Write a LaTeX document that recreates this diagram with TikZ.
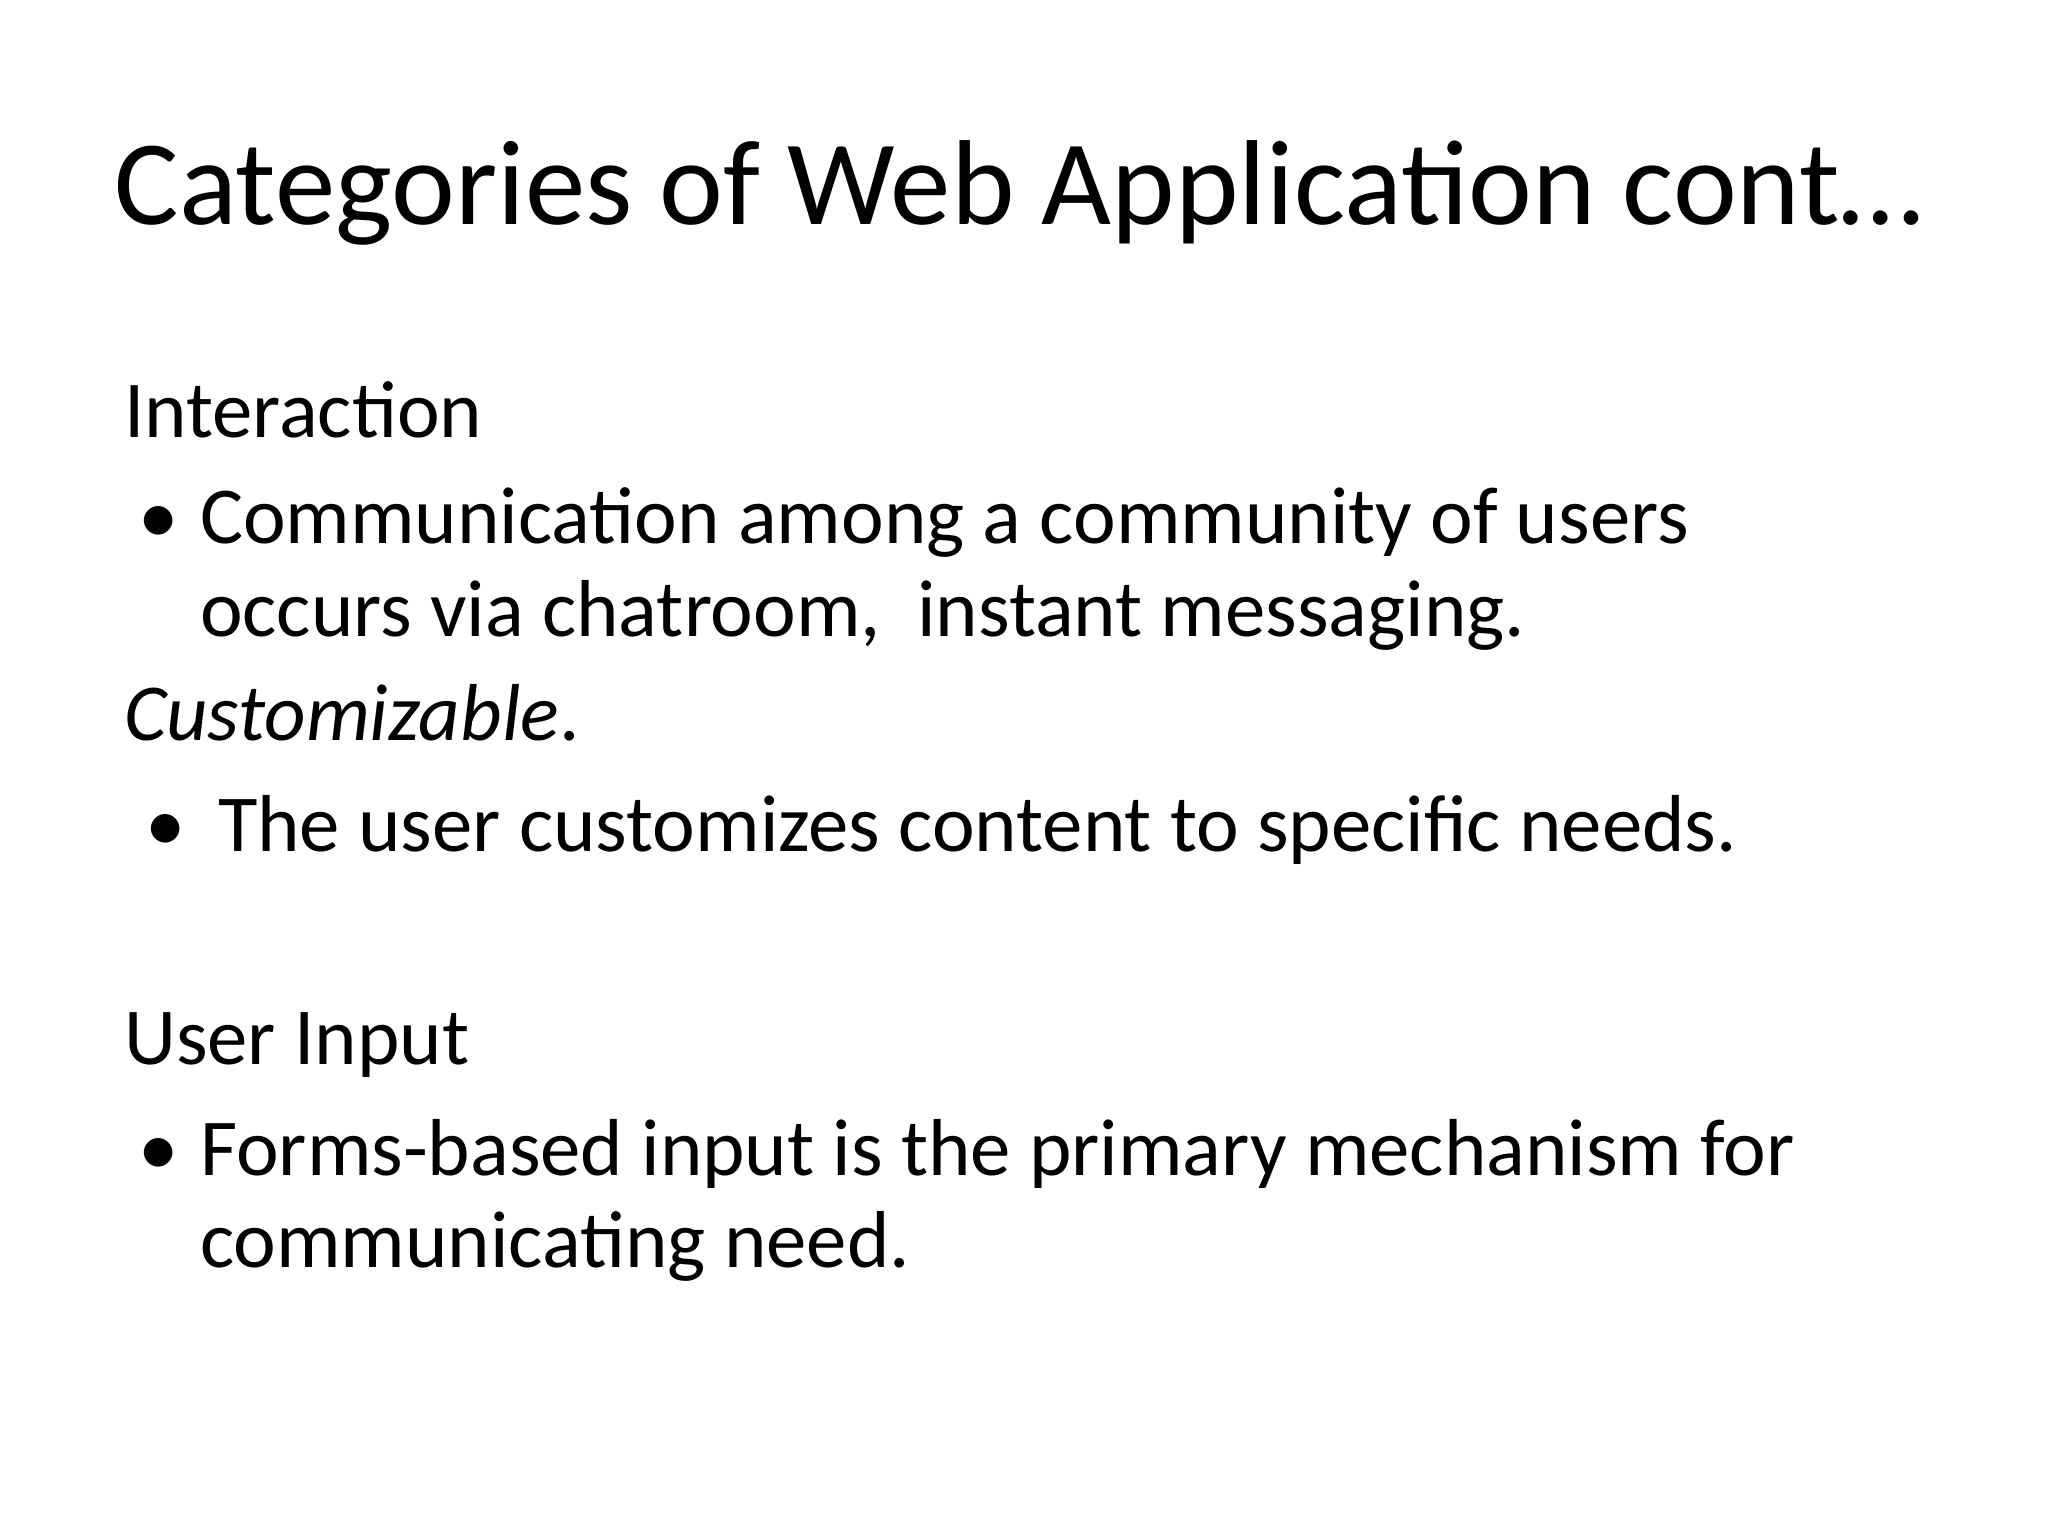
\documentclass[tikz,border=0pt]{standalone}
\usepackage{fontspec}
\setmainfont{Carlito}
\begin{document}
\begin{tikzpicture}[x=0.05cm,y=-0.05cm,
  body/.style={anchor=base west,inner sep=0pt,font=\fontsize{115}{130}\selectfont}]
\useasboundingbox (0,0) rectangle (2048,1536);
\node[anchor=base,inner sep=0pt,font=\fontsize{172}{190}\selectfont] (title) at (1019,225) {Categories of Web Application cont…};
\node[body] (h1) at (124,437) {Interaction};
\node[body] (b1) at (138,543) {•};
\node[body] (t1) at (200,543) {Communication among a community of users};
\node[body] (t1b) at (200,636) {occurs via chatroom,\ \ instant messaging.};
\node[body] (h2) at (124,740) {\textit{Customizable}.};
\node[body] (b2) at (145,851) {•};
\node[body] (t2) at (218,851) {The user customizes content to specific needs.};
\node[body] (h3) at (124,1064) {User Input};
\node[body] (b3) at (138,1175) {•};
\node[body] (t3) at (200,1175) {Forms-based input is the primary mechanism for};
\node[body] (t3b) at (200,1267) {communicating need.};
\end{tikzpicture}
\end{document}
